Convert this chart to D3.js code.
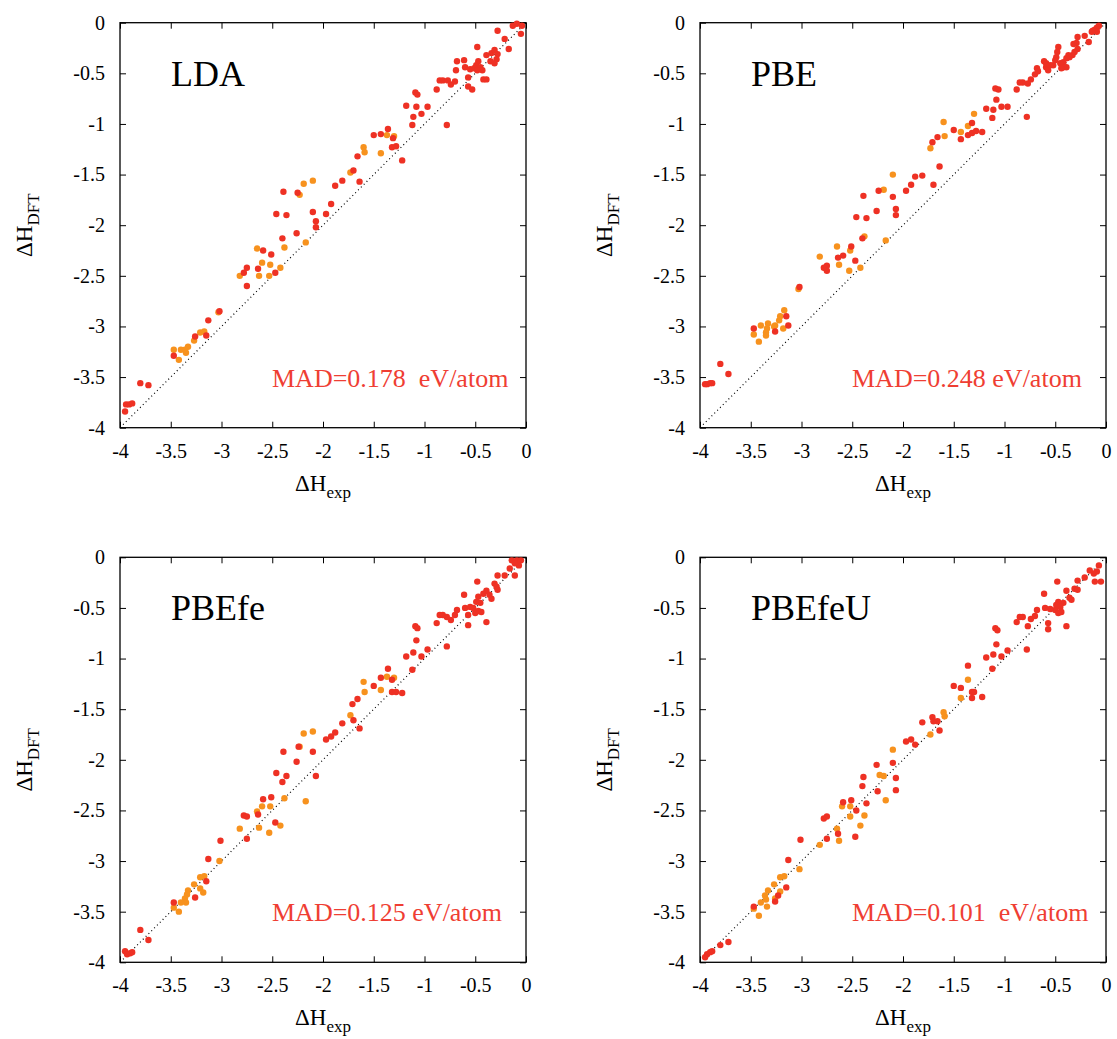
<!DOCTYPE html>
<html>
<head>
<meta charset="utf-8">
<script src="https://cdn.jsdelivr.net/npm/d3@7"></script>
<style>
  body { margin: 0; background: #fff; }
  text { font-family: "Liberation Serif", "Times New Roman", serif; }
</style>
</head>
<body>
<div id="chart"></div>
<script>
// ---- data: [dH_exp, dH_DFT] pairs ----
var tickVals = [-4, -3.5, -3, -2.5, -2, -1.5, -1, -0.5, 0];
var panelNames = ["LDA", "PBE", "PBEfe", "PBEfeU"];
var madLabels = ["MAD=0.178\u00a0\u00a0eV/atom", "MAD=0.248 eV/atom", "MAD=0.125 eV/atom", "MAD=0.101\u00a0\u00a0eV/atom"];

var ldaRed = [[-0.13,-0.03],[-0.09,-0.01],[-0.04,-0.03],[-0.05,-0.11],[-0.28,-0.08],[-0.21,-0.16],[-0.17,-0.26],[-0.48,-0.24],[-0.39,-0.32],[-0.34,-0.30],[-0.31,-0.27],[-0.28,-0.31],[-0.35,-0.38],[-0.29,-0.36],[-0.31,-0.40],[-0.68,-0.38],[-0.61,-0.37],[-0.60,-0.44],[-0.69,-0.47],[-0.55,-0.46],[-0.47,-0.38],[-0.49,-0.42],[-0.45,-0.44],[-0.51,-0.45],[-0.43,-0.47],[-0.48,-0.47],[-0.57,-0.54],[-0.42,-0.56],[-0.39,-0.56],[-0.85,-0.57],[-0.82,-0.57],[-0.77,-0.57],[-0.74,-0.61],[-0.70,-0.58],[-0.88,-0.66],[-0.57,-0.63],[-0.53,-0.66],[-1.09,-0.69],[-1.07,-0.71],[-1.18,-0.82],[-1.08,-0.83],[-0.97,-0.83],[-1.11,-0.93],[-1.03,-0.90],[-1.12,-1.01],[-0.78,-1.01],[-1.36,-1.05],[-1.50,-1.11],[-1.43,-1.10],[-1.31,-1.14],[-1.32,-1.23],[-1.28,-1.22],[-1.22,-1.36],[-1.66,-1.32],[-1.70,-1.46],[-1.64,-1.57],[-1.81,-1.56],[-1.88,-1.61],[-2.39,-1.67],[-2.25,-1.68],[-1.92,-1.79],[-2.10,-1.87],[-2.07,-1.96],[-2.07,-2.02],[-1.97,-1.89],[-2.46,-1.89],[-2.36,-1.90],[-2.26,-2.08],[-2.40,-2.13],[-2.59,-2.25],[-2.51,-2.29],[-2.64,-2.43],[-2.75,-2.42],[-2.78,-2.47],[-2.47,-2.47],[-2.75,-2.60],[-3.02,-2.85],[-3.13,-2.94],[-3.26,-3.10],[-3.15,-3.09],[-3.47,-3.29],[-3.80,-3.56],[-3.72,-3.58],[-3.94,-3.77],[-3.91,-3.77],[-3.88,-3.76],[-3.95,-3.84]];
var ldaOrange = [[-1.37,-1.11],[-1.30,-1.12],[-1.60,-1.23],[-1.59,-1.28],[-1.43,-1.29],[-1.73,-1.48],[-2.23,-1.70],[-2.19,-1.59],[-2.10,-1.56],[-2.38,-2.22],[-2.17,-2.17],[-2.65,-2.23],[-2.60,-2.37],[-2.52,-2.39],[-2.82,-2.50],[-2.63,-2.50],[-2.53,-2.50],[-2.42,-2.42],[-3.03,-2.86],[-3.21,-3.06],[-3.17,-3.05],[-3.27,-3.14],[-3.33,-3.20],[-3.36,-3.23],[-3.40,-3.23],[-3.35,-3.26],[-3.47,-3.23],[-3.42,-3.33]];

var pbeRed = [[-0.14,-0.09],[-0.11,-0.07],[-0.09,-0.05],[-0.07,-0.03],[-0.09,-0.09],[-0.13,-0.08],[-0.21,-0.13],[-0.17,-0.19],[-0.28,-0.14],[-0.29,-0.20],[-0.32,-0.21],[-0.28,-0.26],[-0.31,-0.29],[-0.33,-0.32],[-0.36,-0.34],[-0.37,-0.32],[-0.39,-0.35],[-0.42,-0.39],[-0.47,-0.24],[-0.48,-0.29],[-0.49,-0.34],[-0.50,-0.37],[-0.45,-0.40],[-0.42,-0.44],[-0.39,-0.44],[-0.44,-0.45],[-0.52,-0.42],[-0.59,-0.44],[-0.57,-0.47],[-0.61,-0.38],[-0.59,-0.40],[-0.55,-0.42],[-0.68,-0.45],[-0.67,-0.48],[-0.70,-0.51],[-0.74,-0.56],[-0.77,-0.60],[-0.82,-0.59],[-0.85,-0.59],[-0.88,-0.66],[-1.09,-0.65],[-1.06,-0.66],[-1.08,-0.76],[-1.18,-0.85],[-1.11,-0.86],[-1.03,-0.83],[-0.97,-0.83],[-1.12,-0.94],[-0.78,-0.93],[-1.32,-0.99],[-1.50,-1.06],[-1.43,-1.15],[-1.36,-1.11],[-1.32,-1.09],[-1.28,-1.07],[-1.22,-1.08],[-1.66,-1.13],[-1.71,-1.18],[-1.64,-1.42],[-1.70,-1.60],[-1.81,-1.51],[-1.88,-1.52],[-2.24,-1.66],[-2.39,-1.71],[-2.10,-1.72],[-2.07,-1.84],[-2.07,-1.90],[-1.97,-1.66],[-1.92,-1.60],[-2.26,-1.86],[-2.46,-1.92],[-2.36,-1.93],[-2.40,-2.13],[-2.51,-2.21],[-2.59,-2.30],[-2.64,-2.32],[-2.78,-2.42],[-2.75,-2.40],[-2.75,-2.45],[-2.47,-2.35],[-3.02,-2.61],[-3.15,-2.90],[-3.13,-2.99],[-3.26,-3.05],[-3.47,-3.02],[-3.80,-3.37],[-3.72,-3.47],[-3.95,-3.57],[-3.93,-3.57],[-3.90,-3.56],[-3.88,-3.56]];
var pbeOrange = [[-1.30,-0.90],[-1.36,-1.02],[-1.43,-1.08],[-1.60,-0.98],[-1.59,-1.12],[-1.73,-1.24],[-2.10,-1.50],[-2.19,-1.65],[-2.38,-2.11],[-2.17,-2.15],[-2.65,-2.21],[-2.52,-2.25],[-2.82,-2.31],[-2.63,-2.39],[-2.53,-2.45],[-2.42,-2.42],[-3.03,-2.63],[-3.17,-2.84],[-3.21,-2.90],[-3.22,-2.94],[-3.26,-2.99],[-3.27,-3.00],[-3.18,-3.02],[-3.33,-2.97],[-3.34,-3.02],[-3.35,-3.06],[-3.35,-3.09],[-3.40,-2.99],[-3.47,-3.08],[-3.42,-3.15]];

var pbefeRed = [[-0.14,-0.03],[-0.09,-0.03],[-0.05,-0.03],[-0.07,-0.08],[-0.11,-0.06],[-0.16,-0.11],[-0.21,-0.18],[-0.11,-0.18],[-0.28,-0.18],[-0.48,-0.24],[-0.31,-0.26],[-0.29,-0.29],[-0.28,-0.32],[-0.39,-0.33],[-0.36,-0.37],[-0.34,-0.41],[-0.42,-0.36],[-0.61,-0.37],[-0.47,-0.39],[-0.49,-0.44],[-0.45,-0.45],[-0.60,-0.50],[-0.55,-0.49],[-0.52,-0.50],[-0.47,-0.53],[-0.44,-0.54],[-0.50,-0.55],[-0.68,-0.52],[-0.70,-0.57],[-0.74,-0.62],[-0.78,-0.59],[-0.85,-0.57],[-0.82,-0.57],[-0.88,-0.65],[-0.57,-0.57],[-0.57,-0.67],[-0.39,-0.64],[-1.09,-0.68],[-1.07,-0.70],[-1.08,-0.82],[-1.18,-0.98],[-1.11,-0.94],[-1.03,-0.98],[-0.97,-0.91],[-1.12,-1.11],[-0.78,-0.88],[-1.36,-1.10],[-1.43,-1.19],[-1.32,-1.21],[-1.32,-1.33],[-1.28,-1.33],[-1.22,-1.34],[-1.50,-1.27],[-1.66,-1.40],[-1.71,-1.45],[-1.70,-1.61],[-1.64,-1.69],[-1.81,-1.64],[-1.88,-1.73],[-1.92,-1.77],[-1.97,-1.80],[-2.24,-1.87],[-2.39,-1.92],[-2.10,-1.92],[-2.26,-2.02],[-2.46,-2.13],[-2.36,-2.16],[-2.40,-2.22],[-2.07,-2.16],[-2.51,-2.37],[-2.59,-2.39],[-2.64,-2.54],[-2.78,-2.55],[-2.75,-2.56],[-2.47,-2.62],[-2.75,-2.78],[-3.01,-2.80],[-3.13,-2.98],[-3.15,-3.20],[-3.47,-3.41],[-3.26,-3.36],[-3.80,-3.68],[-3.72,-3.78],[-3.95,-3.89],[-3.93,-3.92],[-3.90,-3.91],[-3.88,-3.90]];
var pbefeOrange = [[-1.37,-1.18],[-1.30,-1.19],[-1.60,-1.23],[-1.59,-1.33],[-1.43,-1.31],[-1.73,-1.56],[-2.19,-1.74],[-2.10,-1.72],[-2.23,-1.87],[-2.38,-2.38],[-2.17,-2.41],[-2.60,-2.46],[-2.52,-2.46],[-2.65,-2.51],[-2.82,-2.68],[-2.63,-2.67],[-2.42,-2.65],[-2.53,-2.72],[-3.02,-3.00],[-3.21,-3.16],[-3.17,-3.15],[-3.27,-3.23],[-3.21,-3.27],[-3.18,-3.31],[-3.33,-3.29],[-3.34,-3.33],[-3.36,-3.37],[-3.35,-3.41],[-3.40,-3.41],[-3.47,-3.46],[-3.42,-3.50]];

var pbefeuRed = [[-0.07,-0.08],[-0.09,-0.14],[-0.12,-0.16],[-0.16,-0.13],[-0.21,-0.20],[-0.11,-0.24],[-0.05,-0.24],[-0.28,-0.23],[-0.48,-0.24],[-0.31,-0.31],[-0.28,-0.32],[-0.39,-0.33],[-0.36,-0.40],[-0.34,-0.42],[-0.61,-0.36],[-0.42,-0.45],[-0.47,-0.44],[-0.49,-0.47],[-0.45,-0.49],[-0.44,-0.54],[-0.50,-0.52],[-0.55,-0.51],[-0.60,-0.50],[-0.47,-0.55],[-0.68,-0.52],[-0.70,-0.58],[-0.74,-0.61],[-0.85,-0.59],[-0.82,-0.59],[-0.88,-0.64],[-0.77,-0.68],[-0.57,-0.65],[-0.57,-0.71],[-0.39,-0.68],[-1.09,-0.70],[-1.07,-0.72],[-1.08,-0.86],[-1.18,-0.99],[-1.11,-0.96],[-1.03,-0.98],[-0.97,-0.92],[-1.12,-1.10],[-0.78,-0.91],[-1.36,-1.07],[-1.50,-1.27],[-1.43,-1.29],[-1.32,-1.33],[-1.30,-1.33],[-1.32,-1.39],[-1.22,-1.38],[-1.66,-1.62],[-1.71,-1.58],[-1.70,-1.62],[-1.64,-1.71],[-1.81,-1.63],[-1.88,-1.85],[-1.92,-1.80],[-1.97,-1.82],[-2.10,-2.03],[-2.26,-2.05],[-2.39,-2.17],[-2.07,-2.18],[-2.40,-2.26],[-2.25,-2.31],[-2.07,-2.30],[-2.36,-2.43],[-2.59,-2.42],[-2.51,-2.40],[-2.46,-2.50],[-2.78,-2.58],[-2.75,-2.56],[-2.64,-2.73],[-2.47,-2.76],[-2.75,-2.78],[-3.01,-2.79],[-3.13,-2.99],[-3.15,-3.26],[-3.23,-3.34],[-3.47,-3.45],[-3.26,-3.40],[-3.80,-3.83],[-3.72,-3.80],[-3.88,-3.89],[-3.90,-3.90],[-3.93,-3.92],[-3.95,-3.95]];
var pbefeuOrange = [[-1.36,-1.21],[-1.43,-1.39],[-1.60,-1.53],[-1.59,-1.57],[-1.73,-1.75],[-2.10,-1.90],[-2.23,-2.15],[-2.19,-2.16],[-2.17,-2.40],[-2.60,-2.46],[-2.52,-2.46],[-2.38,-2.55],[-2.52,-2.56],[-2.42,-2.65],[-2.65,-2.68],[-2.63,-2.80],[-2.82,-2.84],[-3.02,-3.08],[-3.21,-3.16],[-3.17,-3.15],[-3.27,-3.23],[-3.21,-3.30],[-3.33,-3.29],[-3.26,-3.37],[-3.36,-3.34],[-3.35,-3.38],[-3.40,-3.41],[-3.34,-3.45],[-3.47,-3.47],[-3.42,-3.54]];

var redSets = [ldaRed, pbeRed, pbefeRed, pbefeuRed];
var orangeSets = [ldaOrange, pbeOrange, pbefeOrange, pbefeuOrange];

// ---- layout ----
var plotW = 406;
var plotH = 405;
var origins = [[120, 22.7], [700, 22.7], [120, 557.3], [700, 557.3]];
var RED = "#ee3124";
var ORANGE = "#f7921e";

var svg = d3.select("#chart")
  .append("svg")
  .attr("width", 1117)
  .attr("height", 1039);

var fmt = function (d) { return String(d); };

for (var i = 0; i < 4; ++i) {
  drawPanel(i);
}

function drawPanel(i) {
  var g = svg.append("g")
    .attr("transform", "translate(" + origins[i][0] + "," + origins[i][1] + ")");

  var x = d3.scaleLinear().domain([-4, 0]).range([0, plotW]);
  var y = d3.scaleLinear().domain([-4, 0]).range([plotH, 0]);

  // axes, ticks pointing inward on all sides
  var bottom = g.append("g")
    .attr("transform", "translate(0," + plotH + ")")
    .call(d3.axisBottom(x).tickValues(tickVals).tickFormat(fmt)
      .tickSizeInner(-6).tickSizeOuter(0).tickPadding(16));
  var left = g.append("g")
    .call(d3.axisLeft(y).tickValues(tickVals).tickFormat(fmt)
      .tickSizeInner(-6).tickSizeOuter(0).tickPadding(15));
  g.append("g")
    .call(d3.axisTop(x).tickValues(tickVals).tickFormat("")
      .tickSizeInner(-6).tickSizeOuter(0));
  g.append("g")
    .attr("transform", "translate(" + plotW + ",0)")
    .call(d3.axisRight(y).tickValues(tickVals).tickFormat("")
      .tickSizeInner(-6).tickSizeOuter(0));

  g.selectAll(".domain").remove();
  g.selectAll(".tick line").attr("stroke", "#000").attr("stroke-width", 1);
  g.selectAll(".tick text")
    .attr("fill", "#000")
    .style("font-family", "Liberation Serif")
    .style("font-size", "20px");

  g.append("rect")
    .attr("width", plotW)
    .attr("height", plotH)
    .attr("fill", "none")
    .attr("stroke", "#000")
    .attr("stroke-width", 1.3);

  // y = x reference line
  g.append("line")
    .attr("x1", x(-3.97)).attr("y1", y(-3.97))
    .attr("x2", x(0)).attr("y2", y(0))
    .attr("stroke", "#000")
    .attr("stroke-width", 1.2)
    .attr("stroke-dasharray", "1,3");

  g.selectAll("circle.orange").data(orangeSets[i])
    .enter()
    .append("circle")
    .attr("class", "orange")
    .attr("cx", function (d) { return x(d[0]); })
    .attr("cy", function (d) { return y(d[1]); })
    .attr("r", 3.2)
    .style("fill", ORANGE);

  g.selectAll("circle.red").data(redSets[i])
    .enter()
    .append("circle")
    .attr("class", "red")
    .attr("cx", function (d) { return x(d[0]); })
    .attr("cy", function (d) { return y(d[1]); })
    .attr("r", 3.2)
    .style("fill", RED);

  // panel title
  g.append("text")
    .attr("x", 51)
    .attr("y", 63)
    .style("font-size", "36px")
    .attr("fill", "#000")
    .text(panelNames[i]);

  // MAD label
  g.append("text")
    .attr("x", 152)
    .attr("y", 364)
    .style("font-size", "26px")
    .attr("fill", "#ef3e33")
    .text(madLabels[i]);

  // x label
  var xl = g.append("text")
    .attr("x", plotW / 2)
    .attr("y", plotH + 63)
    .attr("text-anchor", "middle")
    .style("font-size", "23px")
    .attr("fill", "#000");
  xl.append("tspan").text("\u0394H");
  xl.append("tspan").attr("dy", 7).style("font-size", "17px").text("exp");

  // y label
  var yl = g.append("text")
    .attr("transform", "translate(-88," + (plotH / 2) + ") rotate(-90)")
    .attr("text-anchor", "middle")
    .style("font-size", "23px")
    .attr("fill", "#000");
  yl.append("tspan").text("\u0394H");
  yl.append("tspan").attr("dy", 7).style("font-size", "17px").text("DFT");
}
</script>
</body>
</html>
